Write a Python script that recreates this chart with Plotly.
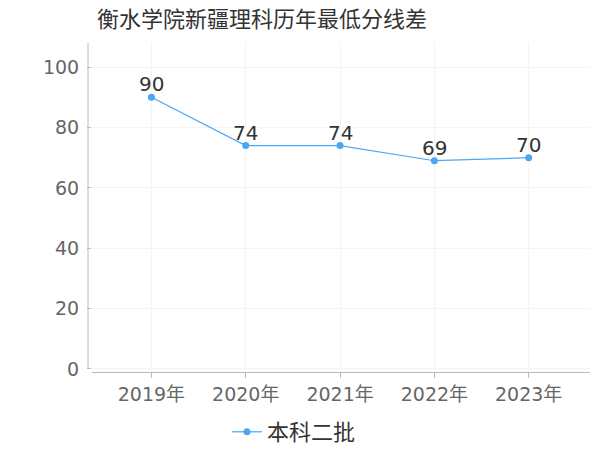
import plotly.graph_objects as go

years = ["2019年", "2020年", "2021年", "2022年", "2023年"]
values = [90, 74, 74, 69, 70]
series_name = "本科二批"
title = "衡水学院新疆理科历年最低分线差"

font_family = "DejaVu Sans, Noto Sans CJK SC, sans-serif"
line_color = "#4da6f5"

fig = go.Figure()
fig.add_trace(go.Scatter(
    x=years, y=values, name=series_name,
    mode="lines+markers",
    line=dict(color=line_color, width=1.2),
    marker=dict(color=line_color, size=7),
    showlegend=True,
))

annotations = [
    dict(x=yr, y=v, xref="x", yref="y", text=str(v), showarrow=False,
         yanchor="bottom", yshift=-1, font=dict(size=20, color="#333333"))
    for yr, v in zip(years, values)
]

fig.update_layout(
    width=600, height=450,
    margin=dict(l=92, r=10, t=43, b=78, autoexpand=False),
    paper_bgcolor="white", plot_bgcolor="white",
    font=dict(family=font_family, color="#666666"),
    title=dict(text=title, x=262 / 600, xanchor="center", xref="container",
               y=1 - 19 / 450, yanchor="middle", yref="container",
               font=dict(size=22, color="#333333")),
    showlegend=True,
    legend=dict(orientation="h", x=0.49, xanchor="center", xref="container",
                y=1 - 432 / 450, yanchor="middle", yref="container",
                font=dict(size=22, color="#333333"), itemwidth=30),
    xaxis=dict(
        type="category", range=[-0.63, 4.65],
        showline=True, linecolor="#bbbbbb", linewidth=1,
        ticks="outside", ticklen=5, tickcolor="#bbbbbb",
        showgrid=True, gridcolor="#f4f4f4",
        tickfont=dict(size=19, color="#666666"),
        fixedrange=True,
    ),
    yaxis=dict(
        range=[-1, 108], tickvals=[0, 20, 40, 60, 80, 100],
        showline=False,
        ticks="outside", ticklen=4, tickcolor="#bbbbbb",
        showgrid=True, gridcolor="#f4f4f4", zeroline=False,
        tickfont=dict(size=19, color="#666666"),
        ticklabelstandoff=4,
    ),
    annotations=annotations,
    shapes=[dict(type="line", xref="paper", yref="paper", x0=-0.008, x1=-0.008,
                 y0=0.01, y1=1, line=dict(color="#bbbbbb", width=1))],
)

fig.write_html("out.html", config={"displayModeBar": False},
               post_script="document.body.style.margin='0';document.body.style.padding='0';")
